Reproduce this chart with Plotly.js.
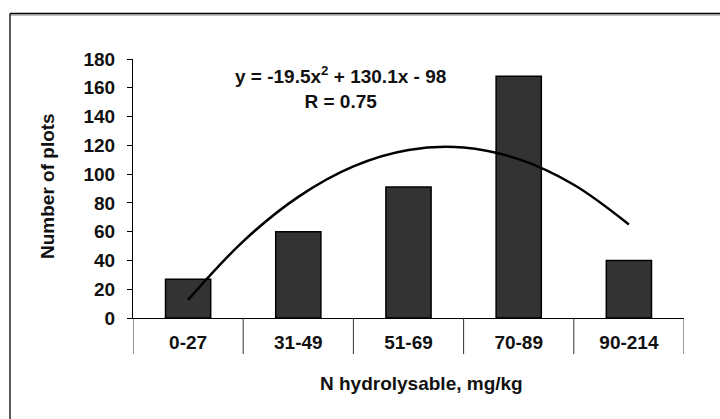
<!DOCTYPE html>
<html>
<head>
<meta charset="utf-8">
<script src="https://cdn.plot.ly/plotly-3.0.1.min.js"></script>
<style>html,body{margin:0;padding:0;background:#fff;}#chart{width:720px;height:419px;}</style>
</head>
<body>
<div id="chart"></div>
<script>
// Data
const categories = ["0-27", "31-49", "51-69", "70-89", "90-214"];
const plotCounts = [27, 60, 91, 168, 40];
// Trendline (polynomial fit shown on chart) read at half-category steps
const trendPos = [0, 0.5, 1, 1.5, 2, 2.5, 3, 3.5, 4];
const trendVals = [12.6, 53.3, 84.2, 105.4, 116.8, 118.5, 110.4, 92.6, 65];
const yTicks = [0, 20, 40, 60, 80, 100, 120, 140, 160, 180];

const idx = categories.map((c, i) => i);
const font = {family: "Liberation Sans, Arial, sans-serif", size: 19, color: "#111", weight: "bold"};

const traces = [
  {
    type: "bar", x: idx, y: plotCounts, width: 0.41,
    marker: {color: "#333333", line: {color: "#000", width: 1.5}},
    hoverinfo: "skip"
  },
  {
    type: "scatter", mode: "lines", x: trendPos, y: trendVals,
    line: {color: "#000", width: 2.5, shape: "spline", smoothing: 1},
    hoverinfo: "skip"
  }
];

// category dividers below the x axis
const shapes = [];
for (let i = 0; i <= categories.length; i++) {
  shapes.push({type: "line", xref: "x", yref: "paper", x0: i - 0.5, x1: i - 0.5,
    y0: 0, y1: -36 / 259, line: {color: "#333", width: 1}});
}
// outer frame (top and left edges visible)
const fx = (10 - 133) / 551, fy = (318 - 13.5) / 259;
shapes.push({type: "line", xref: "paper", yref: "paper", x0: fx, x1: 1.2, y0: fy - 1.6 / 259, y1: fy - 1.6 / 259, line: {color: "#aaa", width: 1.2}});
shapes.push({type: "line", xref: "paper", yref: "paper", x0: fx, x1: 1.2, y0: fy, y1: fy, line: {color: "#000", width: 1.6}});
shapes.push({type: "line", xref: "paper", yref: "paper", x0: fx, x1: fx, y0: -0.5, y1: fy, line: {color: "#000", width: 1.3}});

const layout = {
  width: 720, height: 419,
  margin: {l: 133, r: 36, t: 59, b: 101},
  paper_bgcolor: "#fff", plot_bgcolor: "#fff",
  showlegend: false,
  xaxis: {
    range: [-0.5, categories.length - 0.5], tickvals: idx, ticktext: categories,
    showgrid: false, zeroline: false, showline: true, linecolor: "#000", linewidth: 1,
    ticks: "", ticklabelstandoff: 7, tickfont: font, fixedrange: true
  },
  yaxis: {
    range: [0, 180], tickvals: yTicks, showgrid: false, zeroline: false,
    showline: true, linecolor: "#000", linewidth: 1,
    ticks: "outside", ticklen: 5, tickcolor: "#000", tickwidth: 1,
    ticklabelstandoff: 8, tickfont: font, fixedrange: true
  },
  shapes: shapes,
  annotations: [
    {text: "y = -19.5x<sup>2</sup> + 130.1x - 98<br>R = 0.75", xref: "paper", yref: "paper",
     x: (340 - 133) / 551, y: (318 - 87) / 259, xanchor: "center", yanchor: "middle",
     showarrow: false, align: "center", font: font},
    {text: "N hydrolysable, mg/kg", xref: "paper", yref: "paper",
     x: (421 - 133) / 551, y: (318 - 383) / 259, xanchor: "center", yanchor: "middle",
     showarrow: false, font: font},
    {text: "Number of plots", xref: "paper", yref: "paper", textangle: -90,
     x: (47 - 133) / 551, y: (318 - 186) / 259, xanchor: "center", yanchor: "middle",
     showarrow: false, font: font}
  ]
};

Plotly.newPlot("chart", traces, layout, {displayModeBar: false, staticPlot: true});
</script>
</body>
</html>
